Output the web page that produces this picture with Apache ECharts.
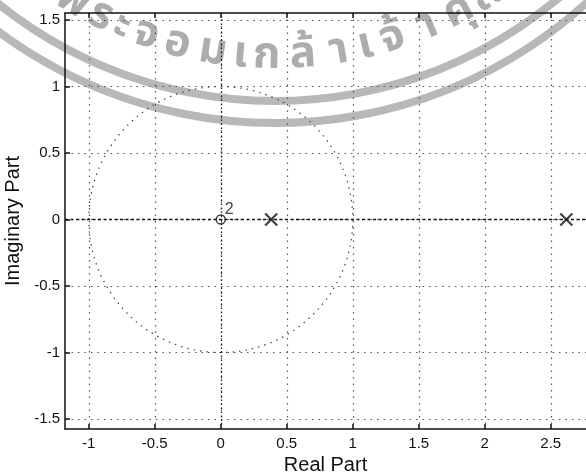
<!DOCTYPE html>
<html>
<head>
<meta charset="utf-8">
<script src="https://cdn.jsdelivr.net/npm/echarts@6/dist/echarts.min.js"></script>
<style>
  html, body { margin: 0; padding: 0; background: #fff; }
  #chart { width: 586px; height: 474px; }
</style>
</head>
<body>
<div id="chart"></div>
<script>
// pole-zero data (z-plane)
const zerosRe = [0]
const zerosIm = [0]
const zerosOrder = [2]
const polesRe = [0.382, 2.618]
const polesIm = [0, 0]
// unit circle: centre re, centre im, radius
const unitCircle = [[0, 0, 1]]

const xTicks = [-1, -0.5, 0, 0.5, 1, 1.5, 2, 2.5]
const yTicks = [-1.5, -1, -0.5, 0, 0.5, 1, 1.5]
const xRange = [-1.18, 2.767]
const yRange = [-1.575, 1.553]

// watermark (scanned page stamp)
const stampClusters = ['พ', 'ร', 'ะ', 'จ', 'อ', 'ม', 'เ', 'ก', 'ล้', 'า', 'เ', 'จ้', 'า', 'คุ', 'ณ']
const stampAngles = [120.6, 116, 112.6, 108.9, 104.2, 99, 95, 91.2, 86, 80.8, 76.8, 72.8, 67.5, 62.5, 57]

const font = '"Liberation Sans", Arial, sans-serif'
const chart = echarts.init(document.getElementById('chart'))

const stampCx = 275
const stampCy = -341
const stamp = []
stamp.push({
  type: 'arc', z: -10, silent: true,
  shape: { cx: stampCx, cy: stampCy, r: 442, startAngle: 0.2, endAngle: Math.PI - 0.2 },
  style: { stroke: '#b8b8b8', lineWidth: 8, fill: null }
})
stamp.push({
  type: 'arc', z: -10, silent: true,
  shape: { cx: stampCx, cy: stampCy, r: 464, startAngle: 0.2, endAngle: Math.PI - 0.2 },
  style: { stroke: '#b8b8b8', lineWidth: 8, fill: null }
})
stampClusters.forEach((ch, i) => {
  const a = stampAngles[i] * Math.PI / 180
  stamp.push({
    type: 'text', z: -10, silent: true,
    x: stampCx + 400 * Math.cos(a),
    y: stampCy + 400 * Math.sin(a),
    rotation: (90 - stampAngles[i]) * Math.PI / 180,
    style: {
      text: ch,
      fill: '#adadad',
      font: 'bold 44px "Noto Sans Thai", "Noto Sans", "DejaVu Sans", sans-serif',
      align: 'center',
      verticalAlign: 'middle'
    }
  })
})

const option = {
  animation: false,
  graphic: stamp,
  grid: { left: 65, top: 13, right: 0, bottom: 45, outerBoundsMode: 'none' },
  xAxis: [
    {
      type: 'value',
      min: xRange[0],
      max: xRange[1],
      name: 'Real Part',
      nameLocation: 'middle',
      nameGap: 26,
      nameTextStyle: { fontFamily: font, fontSize: 20, color: '#111' },
      axisLine: { show: true, onZero: false, lineStyle: { color: '#111', width: 1.5 } },
      axisTick: { inside: true, length: 5, customValues: xTicks, lineStyle: { color: '#111', width: 1.5 } },
      axisLabel: { customValues: xTicks, fontFamily: font, fontSize: 15, color: '#111', margin: 7 },
      splitLine: { show: true, lineStyle: { color: '#555', width: 1.2, type: [1.5, 5] } }
    },
    {
      type: 'value',
      position: 'top',
      min: xRange[0],
      max: xRange[1],
      axisLine: { show: true, onZero: false, lineStyle: { color: '#111', width: 1.5 } },
      axisTick: { inside: true, length: 5, customValues: xTicks, lineStyle: { color: '#111', width: 1.5 } },
      axisLabel: { show: false },
      splitLine: { show: false }
    }
  ],
  yAxis: {
    type: 'value',
    min: yRange[0],
    max: yRange[1],
    name: 'Imaginary Part',
    nameLocation: 'middle',
    nameGap: 42,
    nameTextStyle: { fontFamily: font, fontSize: 20, color: '#111' },
    axisLine: { show: true, onZero: false, lineStyle: { color: '#111', width: 1.5 } },
    axisTick: { inside: true, length: 5, customValues: yTicks, lineStyle: { color: '#111', width: 1.5 } },
    axisLabel: { customValues: yTicks, fontFamily: font, fontSize: 15, color: '#111', margin: 5 },
    splitLine: { show: true, lineStyle: { color: '#555', width: 1.2, type: [1.5, 5] } }
  },
  series: [
    {
      name: 'unit circle',
      type: 'custom',
      silent: true,
      data: unitCircle,
      renderItem(params, api) {
        const c = api.coord([api.value(0), api.value(1)])
        const s = api.size([api.value(2), api.value(2)])
        return {
          type: 'ellipse',
          shape: { cx: c[0], cy: c[1], rx: s[0], ry: s[1] },
          style: { fill: null, stroke: '#444', lineWidth: 1.2, lineDash: [1.5, 5] }
        }
      },
      markLine: {
        silent: true,
        symbol: 'none',
        label: { show: false },
        data: [
          { yAxis: 0, lineStyle: { color: '#111', width: 1.3, type: [3, 2.5] } },
          { xAxis: 0, lineStyle: { color: '#222', width: 1.3, type: [1.5, 2.5] } }
        ]
      }
    },
    {
      name: 'zeros',
      type: 'scatter',
      z: 5,
      symbol: 'circle',
      symbolSize: 9,
      itemStyle: { color: 'none', borderColor: '#111', borderWidth: 1.4 },
      label: {
        show: true,
        position: [11, -11],
        fontFamily: font,
        fontSize: 16,
        color: '#111',
        formatter: p => (p.value[2] > 1 ? String(p.value[2]) : '')
      },
      data: zerosRe.map((re, i) => [re, zerosIm[i], zerosOrder[i]])
    },
    {
      name: 'poles',
      type: 'scatter',
      z: 5,
      symbol: 'path://M0,0L10,10M10,0L0,10',
      symbolSize: 12,
      itemStyle: { color: 'none', borderColor: '#111', borderWidth: 2.2 },
      data: polesRe.map((re, i) => [re, polesIm[i]])
    }
  ]
}

chart.setOption(option)
</script>
</body>
</html>
